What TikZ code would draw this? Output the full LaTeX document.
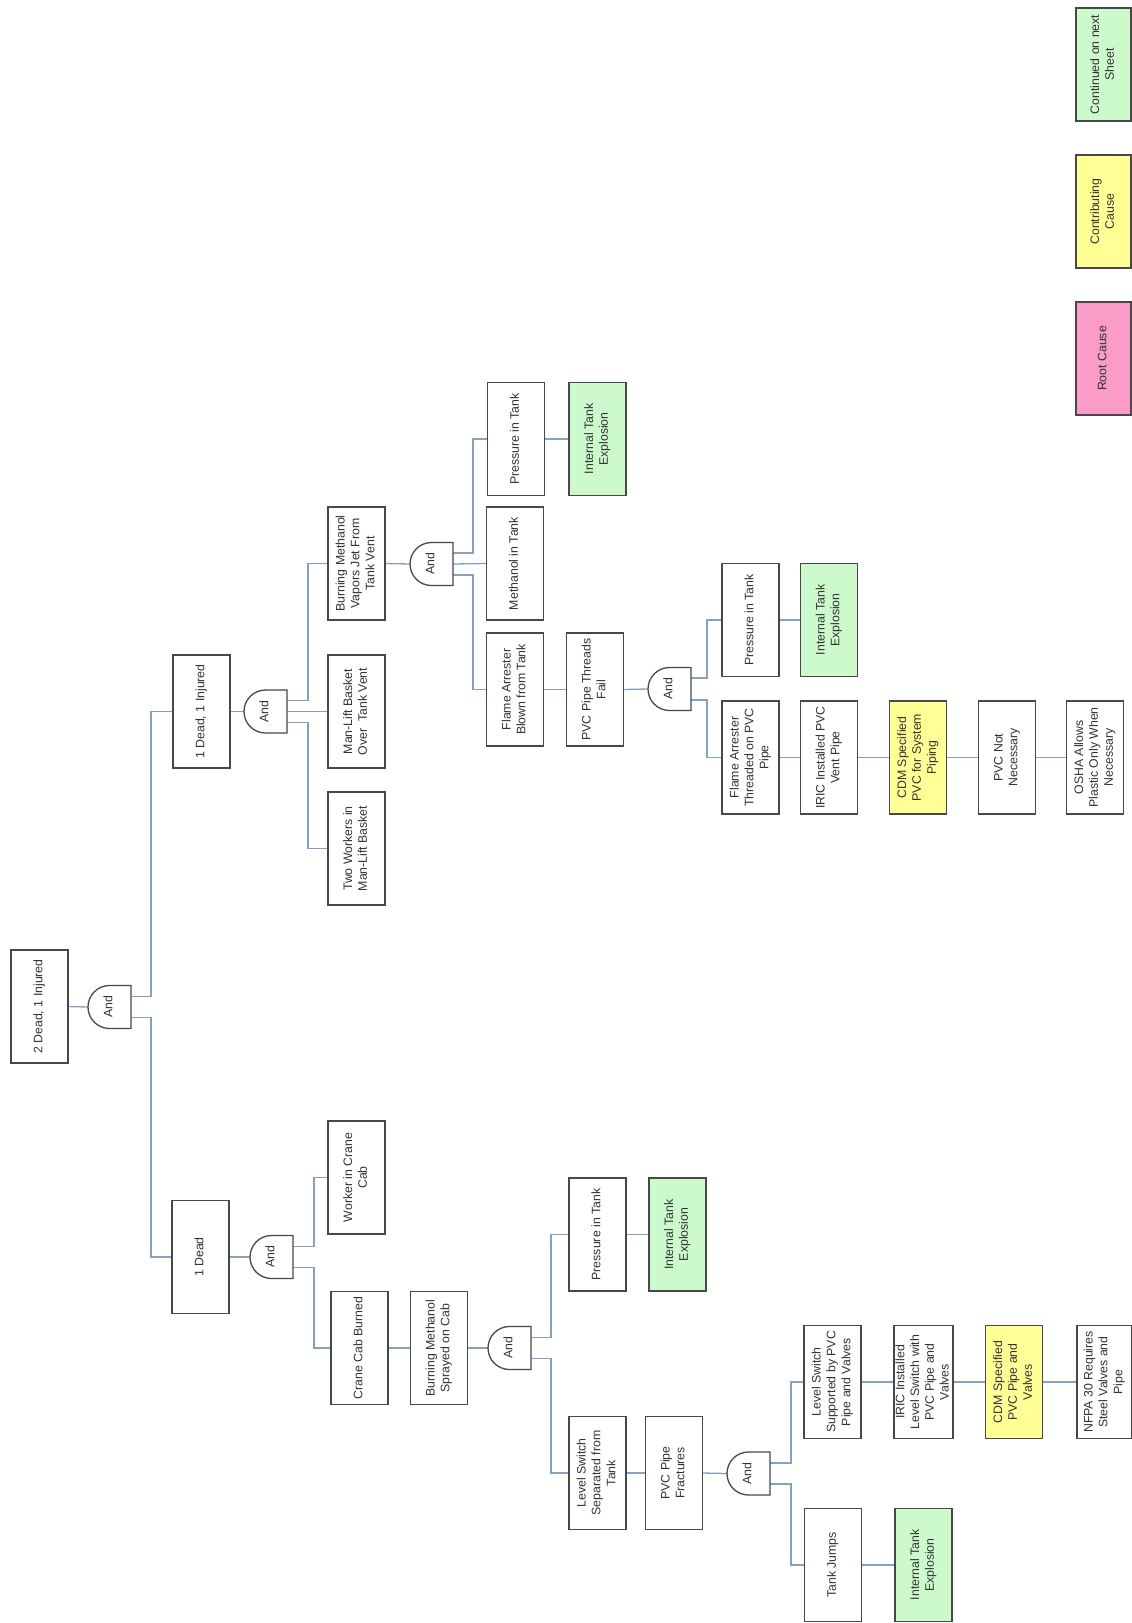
\documentclass[tikz,border=0pt]{standalone}
\usepackage{fontspec}
\setmainfont{Liberation Sans}
\usepackage{graphicx}
\usetikzlibrary{calc,backgrounds}
\definecolor{linec}{RGB}{132,160,198}
\definecolor{boxc}{RGB}{72,72,72}
\definecolor{txtc}{RGB}{50,50,50}
\definecolor{greenf}{RGB}{204,250,204}
\definecolor{yellowf}{RGB}{255,255,150}
\definecolor{pinkf}{RGB}{250,155,200}
\newcommand\rt[1]{\rotatebox{90}{\begin{tabular}{@{}c@{}}#1\end{tabular}}}
\tikzset{
 evt/.style={draw=boxc, line width=1.4pt, fill=white, minimum width=57pt, minimum height=113pt, inner sep=0pt, outer sep=0pt, text=txtc, font=\fontsize{12.3}{14.8}\selectfont},
 cont/.style={evt, fill=greenf},
 contrib/.style={evt, fill=yellowf},
 rootc/.style={evt, fill=pinkf},
 gatenode/.style={minimum width=43pt, minimum height=43pt, inner sep=0pt, outer sep=0pt, text=txtc, font=\fontsize{12.3}{14.8}\selectfont},
 gateshape/.style={draw=boxc, line width=1.3pt, fill=white},
 conn/.style={draw=linec, line width=1.3pt},
}
\begin{document}
\begin{tikzpicture}[x=1pt,y=-1pt]
\useasboundingbox (0,0) rectangle (1132,1623);
% boxes
\node[evt] (root) at (39.5,1006.5) {\rt{2 Dead, 1 Injured}};
\node[gatenode] (g1) at (109.5,1007) {\rt{And}};
\node[evt] (n1) at (201.5,711.5) {\rt{1 Dead, 1 Injured}};
\node[gatenode] (g2) at (265.5,711.5) {\rt{And}};
\node[evt] (n2) at (356.5,563.5) {\rt{Burning Methanol\\Vapors Jet From\\Tank Vent}};
\node[evt] (n3) at (356.5,711.5) {\rt{Man-Lift Basket\\Over~ Tank Vent}};
\node[evt] (n4) at (356.5,848.5) {\rt{Two Workers in\\Man-Lift Basket}};
\node[gatenode] (g3) at (431.5,564) {\rt{And}};
\node[evt] (n5) at (516,439) {\rt{Pressure in Tank}};
\node[cont] (n6) at (597.5,439) {\rt{Internal Tank\\Explosion}};
\node[evt] (n7) at (515,563.5) {\rt{Methanol in Tank}};
\node[evt] (n8) at (515,689.5) {\rt{Flame Arrester\\Blown from Tank}};
\node[evt] (n9) at (595,689.5) {\rt{PVC Pipe Threads\\Fail}};
\node[gatenode] (g4) at (669.5,689) {\rt{And}};
\node[evt] (n10) at (750.5,620) {\rt{Pressure in Tank}};
\node[cont] (n11) at (829,620) {\rt{Internal Tank\\Explosion}};
\node[evt] (n12) at (750.5,757.5) {\rt{Flame Arrester\\Threaded on PVC\\Pipe}};
\node[evt] (n13) at (829,757.5) {\rt{IRIC Installed PVC\\Vent Pipe}};
\node[contrib] (n14) at (918,757.5) {\rt{CDM Specified\\PVC for System\\Piping}};
\node[evt] (n15) at (1007,757.5) {\rt{PVC Not\\Necessary}};
\node[evt] (n16) at (1095,757.5) {\rt{OSHA Allows\\Plastic Only When\\Necessary}};
\node[evt] (n17) at (200.5,1257) {\rt{1 Dead}};
\node[gatenode] (g5) at (271.5,1257) {\rt{And}};
\node[evt] (n18) at (356.5,1177.5) {\rt{Worker in Crane\\Cab}};
\node[evt] (n19) at (359.5,1348) {\rt{Crane Cab Burned}};
\node[evt] (n20) at (439,1348) {\rt{Burning Methanol\\Sprayed on Cab}};
\node[gatenode] (g6) at (509.5,1348) {\rt{And}};
\node[evt] (n21) at (597.5,1234.5) {\rt{Pressure in Tank}};
\node[cont] (n22) at (677.5,1234.5) {\rt{Internal Tank\\Explosion}};
\node[evt] (n23) at (597.5,1473) {\rt{Level Switch\\Separated from\\Tank}};
\node[evt] (n24) at (674,1473) {\rt{PVC Pipe\\Fractures}};
\node[gatenode] (g7) at (748.5,1473.5) {\rt{And}};
\node[evt] (n25) at (832.5,1382) {\rt{Level Switch\\Supported by PVC\\Pipe and Valves}};
\node[evt] (n26) at (923.5,1382) {\rt{IRIC Installed\\Level Switch with\\PVC Pipe and\\Valves}};
\node[contrib] (n27) at (1014,1382) {\rt{CDM Specified\\PVC Pipe and\\Valves}};
\node[evt, minimum width=55pt] (n28) at (1104.5,1382) {\rt{NFPA 30 Requires\\Steel Valves and\\Pipe}};
\node[evt] (n29) at (833,1565) {\rt{Tank Jumps}};
\node[cont] (n30) at (923.5,1565) {\rt{Internal Tank\\Explosion}};
% legend
\node[cont, minimum width=55pt] (l1) at (1103.5,64.5) {\rt{Continued on next\\Sheet}};
\node[contrib, minimum width=55pt] (l2) at (1103.5,211.5) {\rt{Contributing\\Cause}};
\node[rootc, minimum width=55pt] (l3) at (1103.5,358.5) {\rt{Root Cause}};
\begin{scope}[on background layer]
\fill[white] (0,0) rectangle (1132,1623);
% connectors
\draw[conn] (root.east) -- (g1.west);
\draw[conn] ($(g1.east)+(0,-10.5)$) -- ++(20,0) |- (n1.west);
\draw[conn] ($(g1.east)+(0,10.5)$) -- ++(20,0) |- (n17.west);
\draw[conn] (n1.east) -- (g2.west);
\draw[conn] ($(g2.east)+(0,-11)$) -- ++(21,0) |- (n2.west);
\draw[conn] (g2.east) -- (n3.west);
\draw[conn] ($(g2.east)+(0,11)$) -- ++(21,0) |- (n4.west);
\draw[conn] (n2.east) -- (g3.west);
\draw[conn] ($(g3.east)+(0,-11)$) -- ++(20,0) |- (n5.west);
\draw[conn] (g3.east) -- (n7.west);
\draw[conn] ($(g3.east)+(0,11)$) -- ++(20,0) |- (n8.west);
\draw[conn] (n5.east) -- (n6.west);
\draw[conn] (n8.east) -- (n9.west);
\draw[conn] (n9.east) -- (g4.west);
\draw[conn] ($(g4.east)+(0,-11)$) -- ++(16,0) |- (n10.west);
\draw[conn] ($(g4.east)+(0,11)$) -- ++(16,0) |- (n12.west);
\draw[conn] (n10.east) -- (n11.west);
\draw[conn] (n12.east) -- (n13.west);
\draw[conn] (n13.east) -- (n14.west);
\draw[conn] (n14.east) -- (n15.west);
\draw[conn] (n15.east) -- (n16.west);
\draw[conn] (n17.east) -- (g5.west);
\draw[conn] ($(g5.east)+(0,-10.5)$) -- ++(21,0) |- (n18.west);
\draw[conn] ($(g5.east)+(0,10.5)$) -- ++(21,0) |- (n19.west);
\draw[conn] (n19.east) -- (n20.west);
\draw[conn] (n20.east) -- (g6.west);
\draw[conn] ($(g6.east)+(0,-10.5)$) -- ++(20,0) |- (n21.west);
\draw[conn] ($(g6.east)+(0,10.5)$) -- ++(20,0) |- (n23.west);
\draw[conn] (n21.east) -- (n22.west);
\draw[conn] (n23.east) -- (n24.west);
\draw[conn] (n24.east) -- (g7.west);
\draw[conn] ($(g7.east)+(0,-10.5)$) -- ++(21,0) |- (n25.west);
\draw[conn] ($(g7.east)+(0,10.5)$) -- ++(21,0) |- (n29.west);
\draw[conn] (n25.east) -- (n26.west);
\draw[conn] (n26.east) -- (n27.west);
\draw[conn] (n27.east) -- (n28.west);
\draw[conn] (n29.east) -- (n30.west);
% gate shapes
\foreach \g in {g1,g2,g3,g4,g5,g6,g7}{
 \filldraw[gateshape] (\g.north east) -- (\g.north) arc[start angle=90, end angle=270, radius=21.5pt] -- (\g.south east) -- cycle;
}
\end{scope}
\end{tikzpicture}
\end{document}
